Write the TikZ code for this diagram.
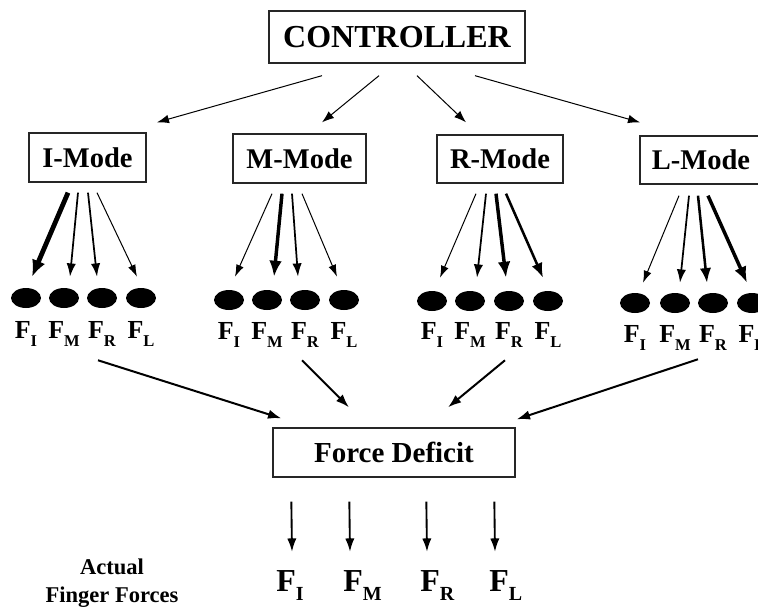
\documentclass[tikz,border=0pt]{standalone}
\usepackage{fontspec}
\setmainfont{Liberation Serif}
\usetikzlibrary{arrows.meta,shapes.geometric}
\newcommand{\fsml}[1]{F\raisebox{-6pt}{\fontsize{12.4}{14}\selectfont #1}}
\newcommand{\fbig}[1]{F\raisebox{-6.75pt}{\fontsize{15}{16}\selectfont #1}}
\tikzset{
  box/.style={draw=black!85, line width=1pt, inner sep=0pt},
  finger/.style={ellipse, fill=black, minimum width=22.5pt, minimum height=15pt, inner sep=0pt},
  flab/.style={anchor=base, inner sep=0pt, font=\bfseries\fontsize{19.5}{22}\selectfont},
  ctlarr/.style={-{Latex[length=9pt,width=6.5pt]}, line width=0.75pt},
  thinarr/.style={-{Latex[length=9pt,width=6pt]}, line width=0.75pt},
  midarr/.style={-{Latex[length=10pt,width=7pt]}, line width=1.3pt},
  thickarr/.style={-{Latex[length=11pt,width=8.5pt]}, line width=1.9pt},
  heavyarr/.style={-{Latex[length=12pt,width=9.5pt]}, line width=2.6pt},
  maxarr/.style={-{Latex[length=12.5pt,width=10.5pt]}, line width=3.6pt},
  mergearr/.style={-{Latex[length=10pt,width=7pt]}, line width=1.5pt},
  downarr/.style={-{Latex[length=10pt,width=7pt]}, line width=1.4pt}
}
\begin{document}
\begin{tikzpicture}[x=0.75pt, y=-0.75pt]
\useasboundingbox (0,0) rectangle (758,608);
\clip (0,0) rectangle (758,608);
% boxes
\node[box, minimum width=192pt, minimum height=39pt, font=\bfseries\fontsize{24}{28}\selectfont] (ctrl) at (397,37) {CONTROLLER};
\node[box, minimum width=87.75pt, minimum height=36.75pt, font=\bfseries\fontsize{21.4}{24}\selectfont] (imode) at (87.5,157.5) {I-Mode};
\node[box, minimum width=99.75pt, minimum height=36.75pt, font=\bfseries\fontsize{21.4}{24}\selectfont] (mmode) at (299.5,158.5) {M-Mode};
\node[box, minimum width=94.5pt, minimum height=36pt, font=\bfseries\fontsize{21.4}{24}\selectfont] (rmode) at (500,159) {R-Mode};
\node[box, minimum width=91.5pt, minimum height=36pt, font=\bfseries\fontsize{21.4}{24}\selectfont] (lmode) at (701,160) {L-Mode};
\node[box, minimum width=181.5pt, minimum height=36.75pt, font=\bfseries\fontsize{21.75}{24}\selectfont] (fdef) at (394,452.5) {Force Deficit};
% finger rows
\node[finger] (iI) at (26,298) {};
\node[finger] (iM) at (64,298) {};
\node[finger] (iR) at (102,298) {};
\node[finger] (iL) at (141,298) {};
\node[flab] (iI-t) at (26,338) {\fsml{I}};
\node[flab] (iM-t) at (64,338) {\fsml{M}};
\node[flab] (iR-t) at (102,338) {\fsml{R}};
\node[flab] (iL-t) at (141,338) {\fsml{L}};
\node[finger] (mI) at (229,300) {};
\node[finger] (mM) at (267,300) {};
\node[finger] (mR) at (305,300) {};
\node[finger] (mL) at (344,300) {};
\node[flab] (mI-t) at (229,339) {\fsml{I}};
\node[flab] (mM-t) at (267,339) {\fsml{M}};
\node[flab] (mR-t) at (305,339) {\fsml{R}};
\node[flab] (mL-t) at (344,339) {\fsml{L}};
\node[finger] (rI) at (432,301) {};
\node[finger] (rM) at (470,301) {};
\node[finger] (rR) at (509,301) {};
\node[finger] (rL) at (548,301) {};
\node[flab] (rI-t) at (432,339) {\fsml{I}};
\node[flab] (rM-t) at (470,339) {\fsml{M}};
\node[flab] (rR-t) at (509,339) {\fsml{R}};
\node[flab] (rL-t) at (548,339) {\fsml{L}};
\node[finger] (lI) at (635,303) {};
\node[finger] (lM) at (675,303) {};
\node[finger] (lR) at (713,303) {};
\node[finger] (lL) at (752,303) {};
\node[flab] (lI-t) at (635,342) {\fsml{I}};
\node[flab] (lM-t) at (675,342) {\fsml{M}};
\node[flab] (lR-t) at (713,342) {\fsml{R}};
\node[flab] (lL-t) at (752,342) {\fsml{L}};
% bottom
\node[inner sep=0pt, align=center, font=\bfseries\fontsize{16.9}{21}\selectfont] (actual) at (112,583) {Actual\\Finger Forces};
\node[anchor=base west, inner sep=0pt, font=\bfseries\fontsize{24}{26}\selectfont] (outI) at (276,591) {\fbig{I}};
\node[anchor=base west, inner sep=0pt, font=\bfseries\fontsize{24}{26}\selectfont] (outM) at (343,591) {\fbig{M}};
\node[anchor=base west, inner sep=0pt, font=\bfseries\fontsize{24}{26}\selectfont] (outR) at (420,591) {\fbig{R}};
\node[anchor=base west, inner sep=0pt, font=\bfseries\fontsize{24}{26}\selectfont] (outL) at (489,591) {\fbig{L}};
% controller to modes
\draw[ctlarr] ([shift={(-75,12)}]ctrl.south) -- ([shift={(69.5,-10)}]imode.north);
\draw[ctlarr] ([shift={(-18,12)}]ctrl.south) -- ([shift={(22.5,-11)}]mmode.north);
\draw[ctlarr] ([shift={(20,12)}]ctrl.south) -- ([shift={(-34,-12)}]rmode.north);
\draw[ctlarr] ([shift={(78,12)}]ctrl.south) -- ([shift={(-61,-13)}]lmode.north);
% modes to fingers
\draw[maxarr] ([shift={(-19.5,10)}]imode.south) -- ([shift={(6,-11)}]iI.north);
\draw[midarr] ([shift={(-9.5,10)}]imode.south) -- ([shift={(6,-11)}]iM.north);
\draw[midarr] ([shift={(0.5,10)}]imode.south) -- ([shift={(-5,-11)}]iR.north);
\draw[thinarr] ([shift={(9.5,10)}]imode.south) -- ([shift={(-4,-11)}]iL.north);
\draw[thinarr] ([shift={(-27.5,10)}]mmode.south) -- ([shift={(6,-13)}]mI.north);
\draw[heavyarr] ([shift={(-17.5,10)}]mmode.south) -- ([shift={(7,-13)}]mM.north);
\draw[midarr] ([shift={(-7.5,10)}]mmode.south) -- ([shift={(-7,-13)}]mR.north);
\draw[thinarr] ([shift={(2.5,10)}]mmode.south) -- ([shift={(-7,-13)}]mL.north);
\draw[thinarr] ([shift={(-24,10)}]rmode.south) -- ([shift={(8,-13)}]rI.north);
\draw[midarr] ([shift={(-14,10)}]rmode.south) -- ([shift={(7,-13)}]rM.north);
\draw[heavyarr] ([shift={(-4,10)}]rmode.south) -- ([shift={(-3,-13)}]rR.north);
\draw[thickarr] ([shift={(6,10)}]rmode.south) -- ([shift={(-5,-13)}]rL.north);
\draw[thinarr] ([shift={(-22,11)}]lmode.south) -- ([shift={(8,-10)}]lI.north);
\draw[midarr] ([shift={(-12,11)}]lmode.south) -- ([shift={(5,-10)}]lM.north);
\draw[thickarr] ([shift={(-3,11)}]lmode.south) -- ([shift={(-6,-10)}]lR.north);
\draw[heavyarr] ([shift={(7,11)}]lmode.south) -- ([shift={(-5,-10)}]lL.north);
% rows to force deficit
\draw[mergearr] ([shift={(-4,52)}]iR.south) -- ([shift={(9,-9)}]fdef.north west);
\draw[mergearr] ([shift={(-3,50)}]mR.south) -- ([shift={(-45,-20)}]fdef.north);
\draw[mergearr] ([shift={(-4,49)}]rR.south) -- ([shift={(54,-20)}]fdef.north);
\draw[mergearr] ([shift={(-15,46)}]lR.south) -- ([shift={(1,-8)}]fdef.north east);
% force deficit to actual forces
\draw[downarr] ([shift={(19,24)}]fdef.south west) -- ([shift={(16,-18)}]outI.north west);
\draw[downarr] ([shift={(77,24)}]fdef.south west) -- ([shift={(7,-18)}]outM.north west);
\draw[downarr] ([shift={(154,24)}]fdef.south west) -- ([shift={(7,-18)}]outR.north west);
\draw[downarr] ([shift={(222,24)}]fdef.south west) -- ([shift={(6,-18)}]outL.north west);
\end{tikzpicture}
\end{document}
